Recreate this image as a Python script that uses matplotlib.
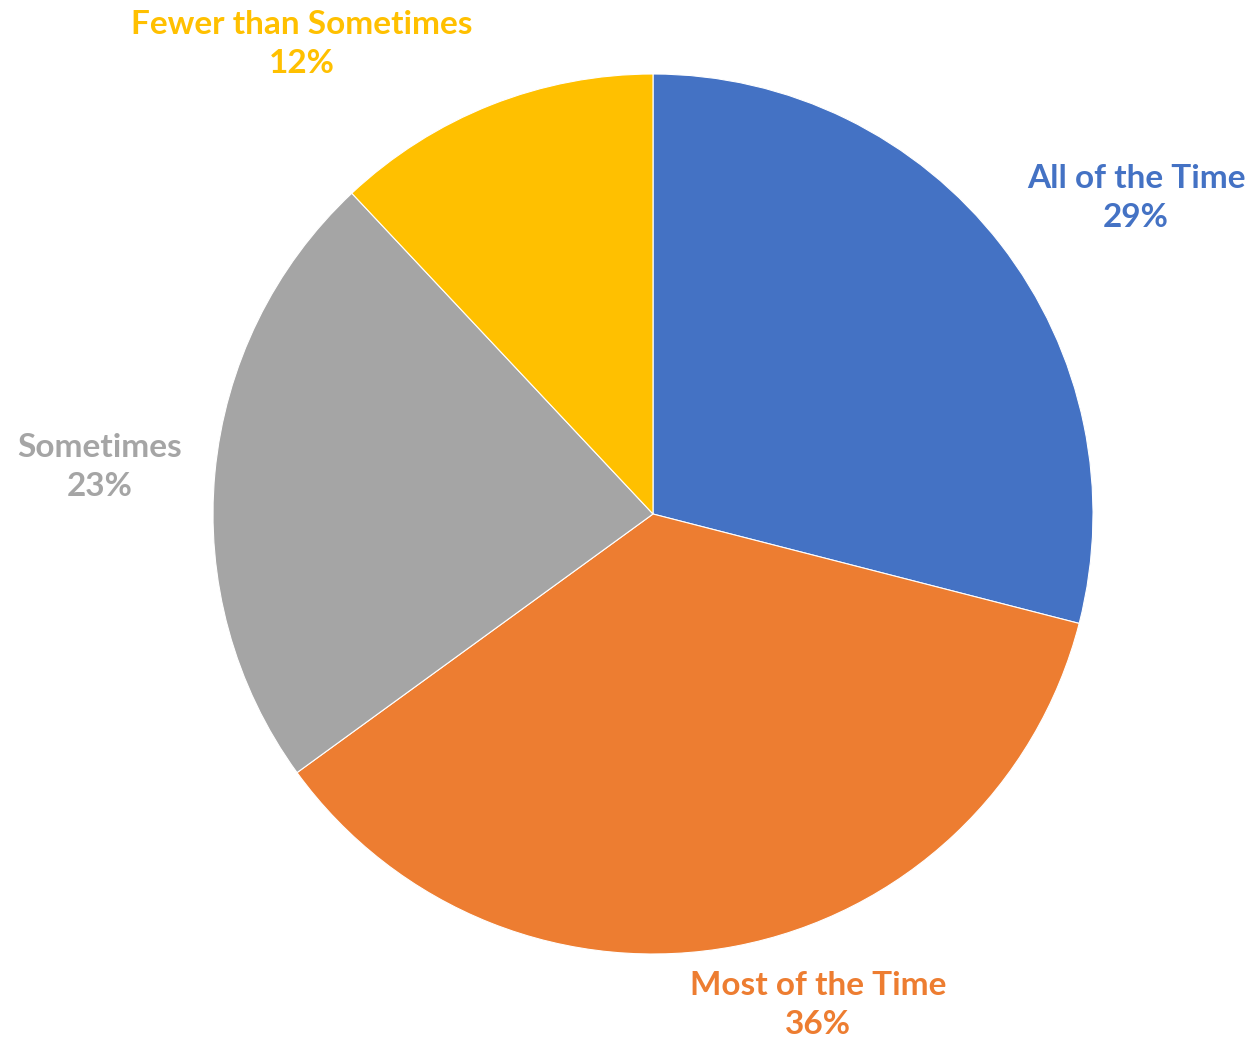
import matplotlib
matplotlib.use("Agg")
import matplotlib.pyplot as plt

# slice data, clockwise from 12 o'clock
labels = ["All of the Time", "Most of the Time", "Sometimes", "Fewer than Sometimes"]
shares = [29, 36, 23, 12]
colors = ["#4472C4", "#ED7D31", "#A5A5A5", "#FFC000"]

# label anchor points (pixel layout, y measured from the top)
label_pos = [(1136, 198), (818, 1005), (100, 467), (302, 44)]

W, H = 1255, 1041
fig = plt.figure(figsize=(W / 100, H / 100), dpi=100)
ax = fig.add_axes([0, 0, 1, 1])

ax.pie(shares, colors=colors, startangle=90, counterclock=False,
       center=(653, H - 514), radius=440, frame=True,
       wedgeprops=dict(edgecolor="white", linewidth=0.8))
ax.set_xlim(0, W)
ax.set_ylim(0, H)
ax.set_aspect("equal")
ax.axis("off")

for lab, val, col, (x, y) in zip(labels, shares, colors, label_pos):
    ax.text(x, H - y, f"{lab}\n{val}%", color=col, ha="center", va="center",
            fontsize=24, fontweight="bold", family=["Lato", "DejaVu Sans"],
            linespacing=1.45)

fig.savefig("out.png", dpi=100)
